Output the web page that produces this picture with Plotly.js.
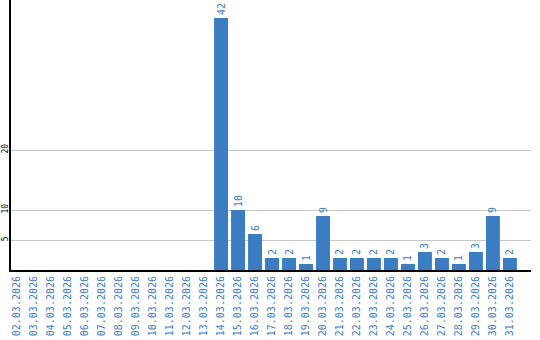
<!DOCTYPE html>
<html>
<head>
<meta charset="utf-8">
<script src="https://cdn.plot.ly/plotly-3.0.1.min.js"></script>
<style>html,body{margin:0;padding:0;background:#fff;}#chart{width:540px;height:340px;}</style>
</head>
<body>
<div id="chart"></div>
<script>
const dates = ["02.03.2026","03.03.2026","04.03.2026","05.03.2026","06.03.2026","07.03.2026","08.03.2026","09.03.2026","10.03.2026","11.03.2026","12.03.2026","13.03.2026","14.03.2026","15.03.2026","16.03.2026","17.03.2026","18.03.2026","19.03.2026","20.03.2026","21.03.2026","22.03.2026","23.03.2026","24.03.2026","25.03.2026","26.03.2026","27.03.2026","28.03.2026","29.03.2026","30.03.2026","31.03.2026"];
const counts = [0,0,0,0,0,0,0,0,0,0,0,0,42,10,6,2,2,1,9,2,2,2,2,1,3,2,1,3,9,2];
const yTicks = [5,10,20];

const blue = '#3b7dc3';
const mono = 'DejaVu Sans Mono, monospace';

const trace = {
  type: 'bar',
  x: dates,
  y: counts,
  marker: {color: blue},
  text: counts.map(v => v > 0 ? String(v) : ''),
  textposition: 'outside',
  textangle: -90,
  textfont: {family: mono, size: 10, color: blue},
  cliponaxis: false,
  hoverinfo: 'none'
};

const layout = {
  width: 540, height: 340,
  margin: {l: 11, r: 9, t: 0, b: 70},
  paper_bgcolor: '#fff', plot_bgcolor: '#fff',
  bargap: 0.18,
  showlegend: false,
  xaxis: {
    type: 'category',
    range: [-0.36, 30.24],
    showline: true, linecolor: '#000', linewidth: 2,
    showgrid: false, ticks: '',
    tickangle: -90,
    tickfont: {family: mono, size: 10, color: blue},
    automargin: false
  },
  yaxis: {
    range: [0, 45],
    tickmode: 'array', tickvals: yTicks, ticktext: yTicks.map(String),
    showline: true, linecolor: '#000', linewidth: 2,
    showgrid: true, gridcolor: '#c8c8c8', gridwidth: 1,
    zeroline: false, ticks: '',
    tickangle: -90,
    ticklabelstandoff: -2,
    tickfont: {family: mono, size: 8, color: '#000'},
    automargin: false
  }
};

Plotly.newPlot('chart', [trace], layout, {staticPlot: true, displayModeBar: false});
</script>
</body>
</html>
